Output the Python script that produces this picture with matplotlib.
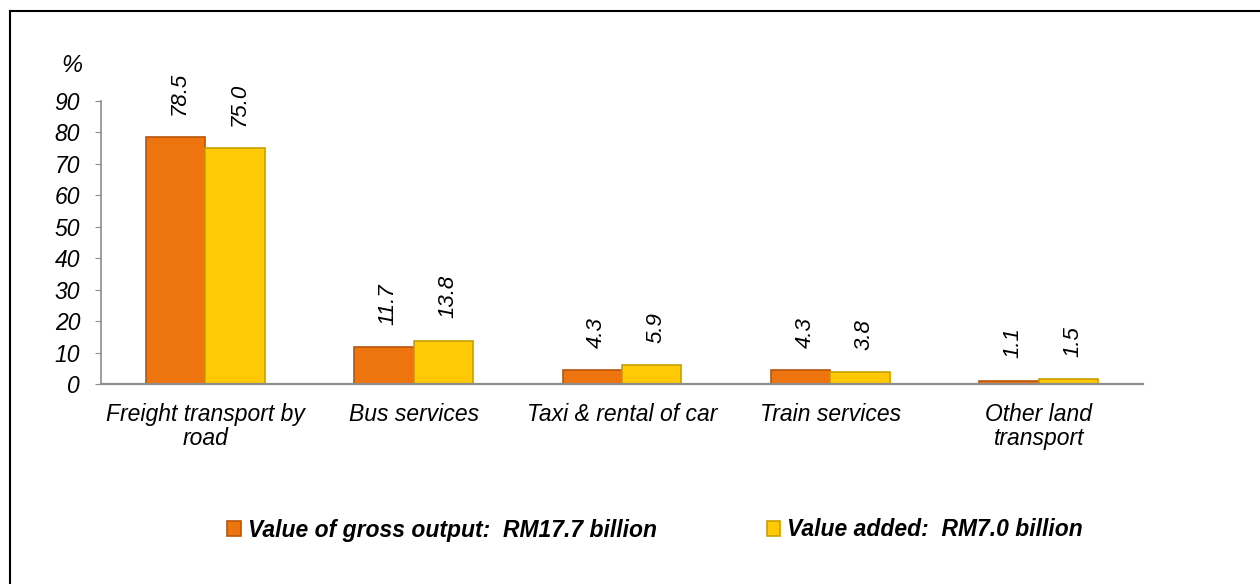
import matplotlib.pyplot as plt
import matplotlib.lines as mlines
import numpy as np

# data
categories = ['Freight transport by\nroad', 'Bus services', 'Taxi & rental of car',
              'Train services', 'Other land\ntransport']
gross_output = [78.5, 11.7, 4.3, 4.3, 1.1]
value_added = [75.0, 13.8, 5.9, 3.8, 1.5]
yticks = [0, 10, 20, 30, 40, 50, 60, 70, 80, 90]
label_gross = 'Value of gross output:  RM17.7 billion'
label_added = 'Value added:  RM7.0 billion'

plt.rcParams['font.family'] = ['Liberation Sans', 'DejaVu Sans']

fig = plt.figure(figsize=(12.6, 5.84), dpi=100)
ax = fig.add_axes([101/1260, 1 - 384/584, (1143 - 101)/1260, (384 - 101)/584])

x = np.arange(len(categories))
w = 0.285
b1 = ax.bar(x - w/2, gross_output, w, color='#EE7410', edgecolor='#B8560A', linewidth=1.2)
b2 = ax.bar(x + w/2, value_added, w, color='#FFC905', edgecolor='#C9A000', linewidth=1.2)

# value labels, rotated
for bars, vals in [(b1, gross_output), (b2, value_added)]:
    for r, v in zip(bars, vals):
        ax.annotate('%.1f' % v, (r.get_x() + r.get_width()/2, v),
                    xytext=(3, 16), textcoords='offset points',
                    rotation=90, ha='center', va='bottom',
                    fontsize=16, style='italic')

ax.set_xlim(-0.5, len(categories) - 0.5)
ax.set_ylim(0, 90)
ax.set_yticks(yticks)
ax.set_xticks(x)
ax.set_xticklabels(categories, fontsize=16.5, style='italic', linespacing=1.05)
for t in ax.get_yticklabels():
    t.set_fontsize(16.5)
    t.set_style('italic')

ax.tick_params(axis='y', length=4, color='#8c8c8c', pad=11)
ax.tick_params(axis='x', length=0, pad=14)

for s in ['top', 'right']:
    ax.spines[s].set_visible(False)
ax.spines['left'].set_color('#8c8c8c')
ax.spines['bottom'].set_color('#8c8c8c')
ax.spines['left'].set_linewidth(1.2)
ax.spines['bottom'].set_linewidth(1.6)

fig.text(82/1260, 1 - 66/584, '%', fontsize=17, style='italic', ha='right', va='center')

# legend
leg = fig.legend([b1, b2], [label_gross, label_added], ncol=2, loc='center',
                 bbox_to_anchor=(655/1260, 1 - 530/584), frameon=False,
                 prop={'weight': 'bold', 'style': 'italic', 'size': 16.5},
                 handlelength=0.6, handleheight=0.6, handletextpad=0.3,
                 columnspacing=4.8)

# frame lines (left and top)
fig.add_artist(mlines.Line2D([10/1260, 10/1260], [0, 1 - 11/584], color='black', lw=1.5,
                             transform=fig.transFigure))
fig.add_artist(mlines.Line2D([10/1260, 1], [1 - 11/584, 1 - 11/584], color='black', lw=1.5,
                             transform=fig.transFigure))

plt.savefig('out.png', dpi=100)
